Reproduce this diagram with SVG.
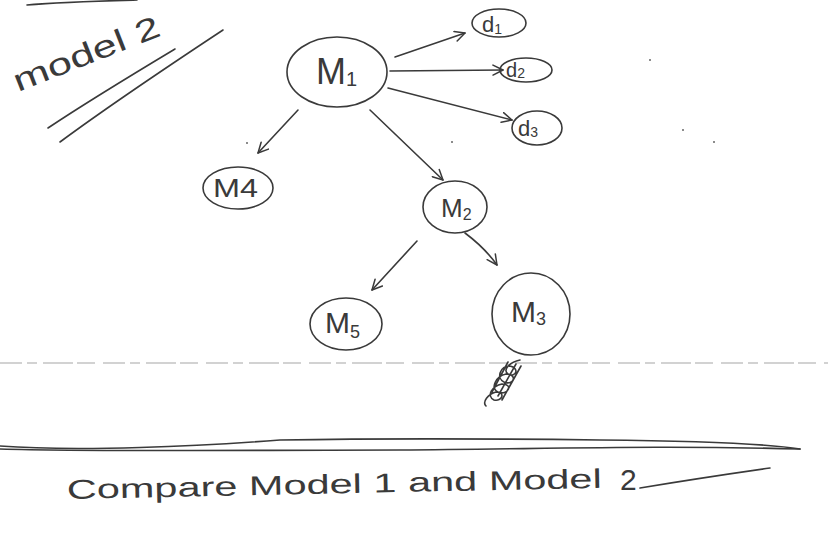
<svg xmlns="http://www.w3.org/2000/svg" width="828" height="540" viewBox="0 0 828 540">
  <defs>
    <marker id="arr" viewBox="0 0 12 12" refX="11" refY="6" markerWidth="12" markerHeight="12" markerUnits="userSpaceOnUse" orient="auto">
      <path d="M1,1 L11,6 L1,11" fill="none" stroke="#3a3a3a" stroke-width="1.5" stroke-linecap="round" stroke-linejoin="round"/>
    </marker>
  </defs>
  <style>
    .ink { fill: none; stroke: #3a3a3a; stroke-width: 1.6; stroke-linecap: round; stroke-linejoin: round; }
    .node { fill: none; stroke: #3a3a3a; stroke-width: 1.6; }
    .lbl { font-family: "Liberation Sans", "DejaVu Sans", sans-serif; fill: #3a3a3a; }
    .dot { fill: #666; }
  </style>
  <rect width="828" height="540" fill="#ffffff"/>

  <!-- top-left title -->
  <path class="ink" d="M27,5 C60,2 100,1 137,0"/>
  <text class="lbl" x="0" y="0" font-size="31" textLength="155" lengthAdjust="spacingAndGlyphs" transform="translate(18,92) rotate(-21.5)">model 2</text>
  <path class="ink" d="M48,128 C90,100 140,70 175,49"/>
  <path class="ink" d="M60,142 C110,105 170,65 223,30"/>

  <!-- connectors -->
  <g id="connectors">
    <path class="ink" d="M395,57 L465,33" marker-end="url(#arr)"/>
    <path class="ink" d="M390,71 L503,70" marker-end="url(#arr)"/>
    <path class="ink" d="M388,88 L512,120" marker-end="url(#arr)"/>
    <path class="ink" d="M298,110 L258,153" marker-end="url(#arr)"/>
    <path class="ink" d="M370,110 L443,180" marker-end="url(#arr)"/>
    <path class="ink" d="M417,241 L372,290" marker-end="url(#arr)"/>
    <path class="ink" d="M465,233 Q485,248 497,265" marker-end="url(#arr)"/>
  </g>

  <!-- nodes -->
  <g id="M1">
    <ellipse class="node" cx="337" cy="72" rx="50" ry="35"/>
    <text class="lbl" x="316" y="84" font-size="36">M<tspan font-size="20" dy="2">1</tspan></text>
  </g>
  <g id="d1">
    <ellipse class="node" cx="499" cy="23" rx="27" ry="14"/>
    <text class="lbl" x="482" y="32" font-size="22">d<tspan font-size="14" dy="2">1</tspan></text>
  </g>
  <g id="d2">
    <ellipse class="node" cx="526" cy="70" rx="26" ry="12"/>
    <text class="lbl" x="506" y="77" font-size="20">d<tspan font-size="14" dy="1">2</tspan></text>
  </g>
  <g id="d3">
    <ellipse class="node" cx="537" cy="128" rx="25" ry="17"/>
    <text class="lbl" x="518" y="136" font-size="22">d<tspan font-size="14" dy="1">3</tspan></text>
  </g>
  <g id="M4">
    <ellipse class="node" cx="238" cy="188" rx="35" ry="21"/>
    <text class="lbl" x="213" y="197" font-size="26" textLength="45" lengthAdjust="spacingAndGlyphs">M4</text>
  </g>
  <g id="M2">
    <ellipse class="node" cx="455" cy="207" rx="32" ry="26"/>
    <text class="lbl" x="441" y="217" font-size="26">M<tspan font-size="16" dy="3">2</tspan></text>
  </g>
  <g id="M5">
    <ellipse class="node" cx="346" cy="324" rx="36" ry="26"/>
    <text class="lbl" x="325" y="333" font-size="30">M<tspan font-size="18" dy="5">5</tspan></text>
  </g>
  <g id="M3">
    <ellipse class="node" cx="531" cy="314" rx="39" ry="41"/>
    <text class="lbl" x="511" y="322" font-size="30">M<tspan font-size="18" dy="3">3</tspan></text>
  </g>

  <!-- dashed separator -->
  <line x1="0" y1="363" x2="828" y2="363" stroke="#c4c4c4" stroke-width="1.3" stroke-dasharray="22,5,10,6,30,4,18,8"/>

  <!-- scribble -->
  <path class="ink" stroke-width="1.2" d="M520,360 C510,362 502,370 508,374 C516,378 520,368 510,366 C500,366 496,378 504,382 C514,386 518,374 506,374 C496,376 490,388 498,392 C508,396 514,384 502,384 C492,386 486,396 494,400 C502,402 506,392 496,392 C488,394 482,402 486,406 M516,364 L498,396 M508,362 L492,392 M521,366 L502,400"/>

  <!-- small dots -->
  <circle class="dot" cx="650" cy="60" r="1"/>
  <circle class="dot" cx="683" cy="130" r="1"/>
  <circle class="dot" cx="714" cy="142" r="1"/>
  <circle class="dot" cx="247" cy="143" r="1"/>
  <circle class="dot" cx="452" cy="142" r="1"/>

  <!-- bottom double line -->
  <path class="ink" stroke-width="1.4" d="M0,446 C80,452 200,446 280,440 C400,438 520,439 600,440 C700,441 770,444 800,449"/>
  <path class="ink" stroke-width="1.4" d="M0,449 C100,452 250,450 400,450 C550,449 650,445 800,449"/>

  <!-- bottom caption -->
  <text class="lbl" x="67" y="499" font-size="27" textLength="535" lengthAdjust="spacingAndGlyphs" transform="rotate(-1.2 67 499)">Compare Model 1 and Model</text>
  <text class="lbl" x="620" y="490" font-size="30">2</text>
  <path class="ink" d="M640,488 Q700,478 770,468"/>
</svg>
